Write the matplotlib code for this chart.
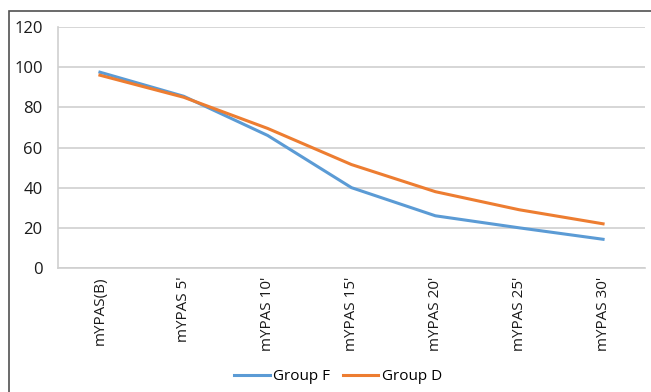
import matplotlib.pyplot as plt
from matplotlib.patches import Rectangle

categories = ["mYPAS(B)", "mYPAS 5'", "mYPAS 10'", "mYPAS 15'", "mYPAS 20'", "mYPAS 25'", "mYPAS 30'"]
group_f = [97.5, 85.5, 66, 40, 26, 20, 14.3]
group_d = [96, 85, 69.5, 51.5, 38, 29, 22]
y_ticks = [0, 20, 40, 60, 80, 100, 120]

plt.rcParams['font.family'] = ['Open Sans', 'DejaVu Sans']

W, H = 651, 392
DPI = 100
fig = plt.figure(figsize=(W / DPI, H / DPI), dpi=DPI)

# outer frame (cropped on right and bottom)
fig.patches.append(Rectangle((9 / W, -0.1), 1.2, (H - 11) / H + 0.1, transform=fig.transFigure,
                             fill=False, edgecolor='#505050', linewidth=1.2))

ax = fig.add_axes([58 / W, 1 - 268 / H, (645 - 58) / W, (268 - 27) / H])
x = list(range(len(categories)))
ax.plot(x, group_f, color='#5B9BD5', linewidth=2.2, label='Group F')
ax.plot(x, group_d, color='#ED7D31', linewidth=2.2, label='Group D')

ax.set_xlim(-0.5, len(categories) - 0.5)
ax.set_ylim(0, 120)
ax.set_yticks(y_ticks)
ax.set_xticks(x)
ax.set_xticklabels(categories, rotation=90, fontsize=11, color='#1a1a1a')
ax.tick_params(axis='y', labelsize=12, colors='#1a1a1a', length=0, pad=11)
ax.tick_params(axis='x', length=0, pad=6)
ax.grid(axis='y', color='#CFCFCF', linewidth=1.2)
ax.set_axisbelow(True)
for s in ['top', 'right']:
    ax.spines[s].set_visible(False)
for s in ['left', 'bottom']:
    ax.spines[s].set_color('#CFCFCF')
    ax.spines[s].set_linewidth(1.2)

fig.legend(loc='center', bbox_to_anchor=(338 / W, 1 - 377 / H), ncol=2, frameon=False,
           fontsize=11, handlelength=2.3, handletextpad=0.2, columnspacing=0.9)

plt.savefig('out.png', dpi=DPI)
